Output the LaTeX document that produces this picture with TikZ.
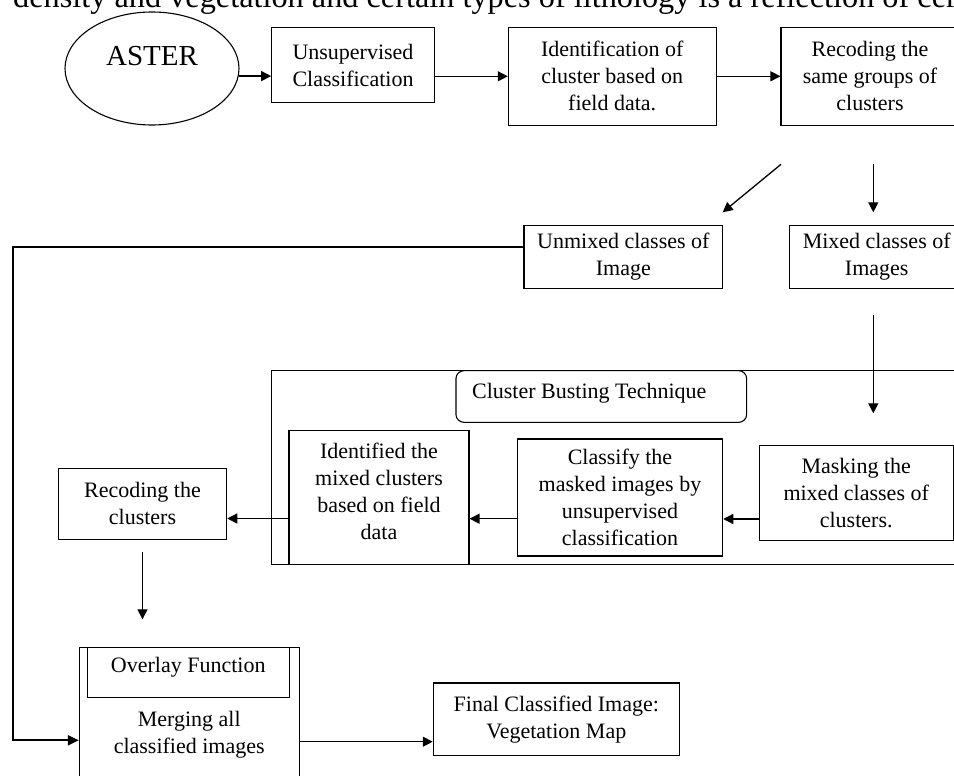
\documentclass[tikz,border=0pt]{standalone}
\usepackage{fontspec}
\setmainfont{Liberation Serif}
\usetikzlibrary{arrows.meta,shapes.geometric,calc}
\begin{document}
\begin{tikzpicture}[x=1pt,y=-1pt,
  boxnode/.style={draw, rectangle, line width=1.1pt, inner sep=0pt, align=center, font=\fontsize{22}{27}\selectfont},
  arr/.style={line width=1.3pt, -{Triangle[length=10pt,width=10pt]}},
  arrthick/.style={line width=2pt, -{Triangle[length=11pt,width=10pt]}},
  lbl/.style={align=center, font=\fontsize{22}{27}\selectfont, inner sep=0pt}]
\useasboundingbox (0,0) rectangle (954,776);
\clip (0,0) rectangle (954,776);

% clipped running text at the top
\node[anchor=base west, inner sep=0pt, font=\fontsize{32.3}{36}\selectfont] (toptext) at (13,7.3)
  {density and vegetation and certain types of lithology is a reflection of certain};

% first row
\node[draw, ellipse, line width=1.1pt, minimum width=174pt, minimum height=113pt, inner sep=0pt,
  label={[font=\fontsize{29}{34}\selectfont, yshift=12.5pt]center:ASTER}] (aster) at (152,68.5) {};
\node[boxnode, minimum width=162.6pt, minimum height=75.4pt] (unsup) at (353,65) {Unsupervised\\Classification};
\node[boxnode, minimum width=207.7pt, minimum height=98pt] (ident) at (612.2,76.3) {Identification of\\cluster based on\\field data.};
\node[boxnode, minimum width=178pt, minimum height=98pt] (recod1) at (870,76.3) {Recoding the\\same groups of\\clusters};

% second row
\node[boxnode, minimum width=198.7pt, minimum height=63pt] (unmixed) at (623.3,256.8) {Unmixed classes of\\Image};
\node[boxnode, minimum width=175pt, minimum height=63pt] (mixed) at (876.7,256.8) {Mixed classes of\\Images};

% cluster busting group
\node[draw, rectangle, line width=1.1pt, minimum width=698.3pt, minimum height=193.6pt, inner sep=0pt] (cbt) at (620.85,467.5) {};
\node[draw, rectangle, rounded corners=8pt, line width=1.1pt, minimum width=290.7pt, minimum height=51.7pt, inner sep=0pt,
  label={[lbl, xshift=-12pt, yshift=3pt]center:Cluster Busting Technique}] (cbtlabel) at (601.3,396.5) {};
\node[boxnode, minimum width=180pt, minimum height=134pt, label={[lbl, yshift=5.6pt]center:{Identified the\\mixed clusters\\based on field\\data}}] (identified) at (379,497.3) {};
\node[boxnode, minimum width=205.4pt, minimum height=117pt] (classify) at (620,497.5) {Classify the\\masked images by\\unsupervised\\classification};
\node[boxnode, minimum width=194.3pt, minimum height=95pt] (masking) at (856.2,493.2) {Masking the\\mixed classes of\\clusters.};

\node[boxnode, minimum width=168.4pt, minimum height=71pt] (recod2) at (142.5,503.8) {Recoding the\\clusters};

% overlay
\node[boxnode, minimum width=219.7pt, minimum height=142.7pt,
  label={[lbl, yshift=-16.3pt]center:{Merging all\\classified images}}] (overlay) at (189.2,718.7) {};
\node[boxnode, minimum width=201.7pt, minimum height=49.7pt,
  label={[lbl, yshift=5pt]center:Overlay Function}] (ovfunc) at (188.2,672.2) {};
\node[boxnode, minimum width=246pt, minimum height=72.7pt] (final) at (556.3,719.3) {Final Classified Image:\\Vegetation Map};

% free ends
\coordinate (d1) at (781,164.3);
\coordinate (d2) at (722.7,212.3);
\coordinate (v1) at (873.3,164.3);
\coordinate (v2) at (873.3,212.3);
\coordinate (m1) at (873.3,315);
\coordinate (m2) at (873.3,413.3);
\coordinate (lc) at (12.7,246.8);
\coordinate (lb) at (12.7,740.3);
\coordinate (r2a) at (142.5,552.3);
\coordinate (r2b) at (142.5,619.3);

% connectors
\draw[arr] (aster.-5) -- (aster.-5 -| unsup.west);
\draw[arr] (unsup.east |- ident.west) -- (ident.west);
\draw[arr] (ident.east) -- (recod1.west);
\draw[arr] (d1) -- (d2);
\draw[arr] (v1) -- (v2);
\draw[arrthick] ([yshift=10pt]unmixed.west) -- (lc) -- (lb) -- (lb -| overlay.west);
\draw[arr] (m1) -- (m2);
\draw[arr] ([yshift=-25.8pt]masking.west) -- ([yshift=-25.8pt]masking.west -| classify.east);
\draw[arr] ([yshift=-21.2pt]classify.west) -- ([yshift=-21.2pt]classify.west -| identified.east);
\draw[arr] ([yshift=-21.2pt]identified.west) -- ([yshift=-21.2pt]identified.west -| recod2.east);
\draw[arr] (r2a) -- (r2b);
\draw[arr] ([yshift=-23pt]overlay.east) -- ([yshift=-23pt]overlay.east -| final.west);
\end{tikzpicture}
\end{document}
